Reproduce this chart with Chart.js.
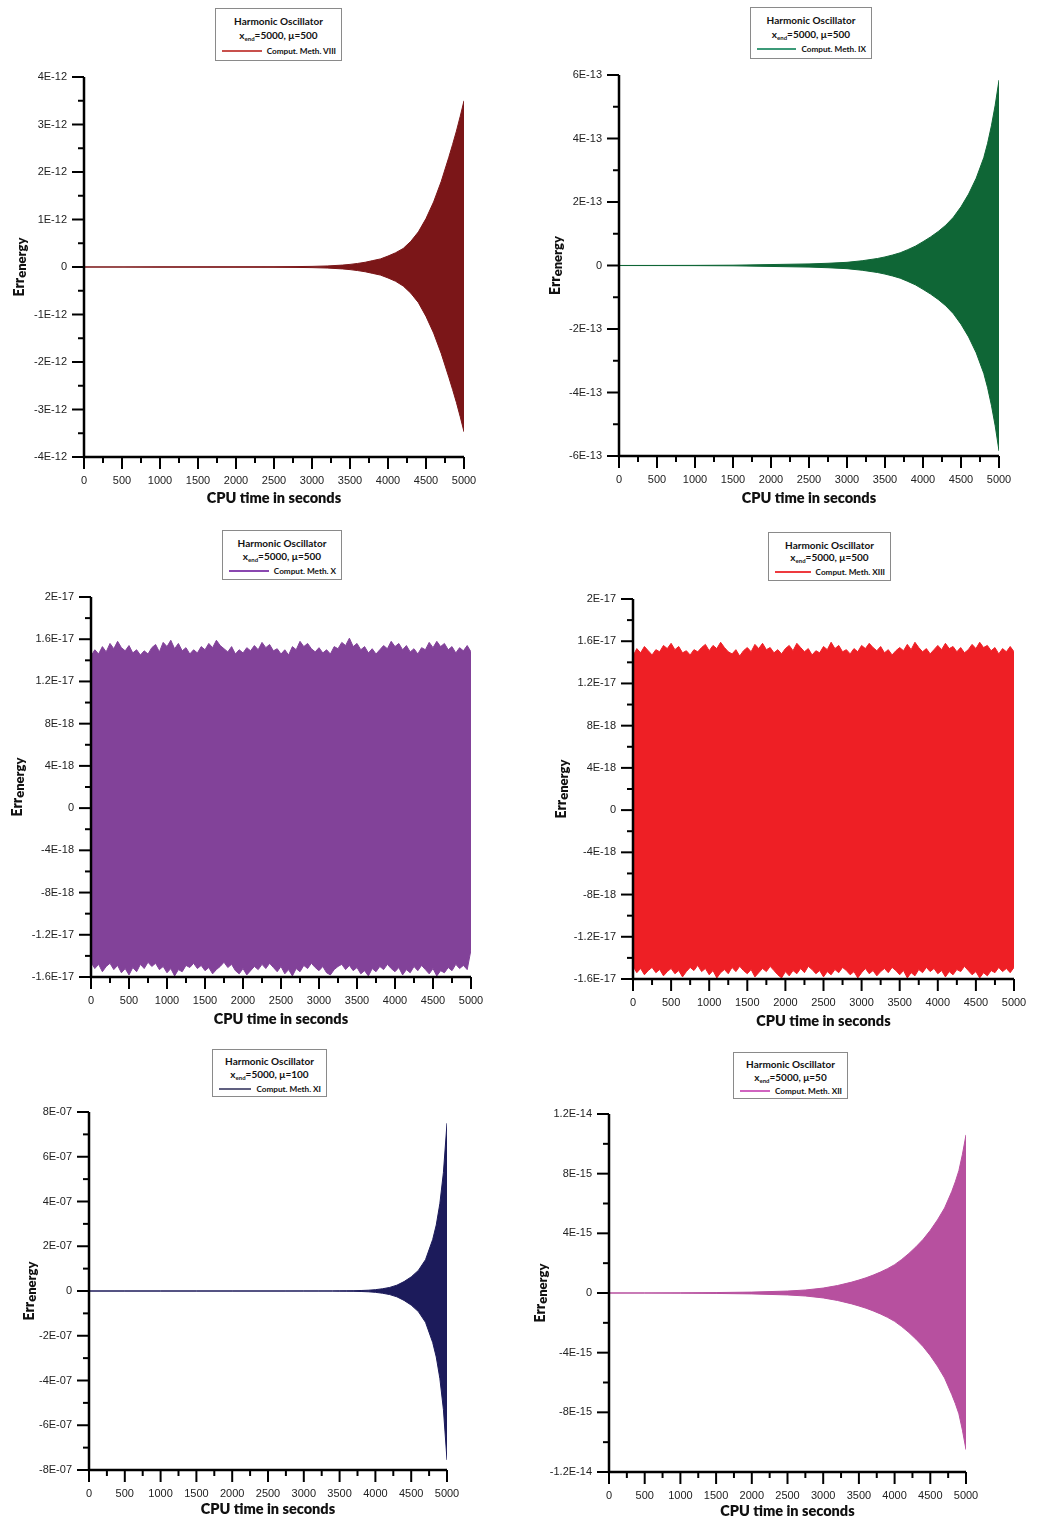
<!DOCTYPE html>
<html>
<head>
<meta charset="utf-8">
<script src="https://cdn.jsdelivr.net/npm/chart.js@4.4.1/dist/chart.umd.min.js"></script>
<style>
    body { margin: 0; background: #fff; }
    #page { position: relative; width: 1040px; height: 1522px; overflow: hidden; background: #fff; }
    .panel { position: absolute; }
    .legend { position: absolute; box-sizing: border-box; border: 1px solid #8a8a8a; background: #fff; font-family: Lato, "Open Sans", sans-serif; font-weight: 700; color: #111; }
    .legend .l1, .legend .l2 { position: absolute; left: 0; right: 0; text-align: center; font-size: 10px; line-height: 12px; }
    .legend .l2 sub { font-size: 6px; vertical-align: -2px; }
    .legend .l3 { position: absolute; left: 6px; right: 5px; display: flex; align-items: center; font-size: 8.2px; line-height: 10px; }
    .legend .swatch { flex: 1; height: 1.5px; margin-right: 5px; }
</style>
</head>
<body>
<div id="page"></div>
<script>
// time axis (CPU seconds)
const xTickLabels = ["0", "500", "1000", "1500", "2000", "2500", "3000", "3500", "4000", "4500", "5000"];

// sampling times for the growing envelopes
const growthTimes = [0, 500, 1000, 1500, 2000, 2500, 2750, 3000, 3200, 3400, 3500, 3600, 3700, 3800, 3900,
    4000, 4100, 4200, 4300, 4400, 4500, 4600, 4700, 4800, 4850, 4900, 4950, 5000];

// Comput. Meth. VIII  (units of 1E-12)
const yTicksVIII = ["-4E-12", "-3E-12", "-2E-12", "-1E-12", "0", "1E-12", "2E-12", "3E-12", "4E-12"];
const upperVIII = [0.002, 0.002, 0.003, 0.004, 0.005, 0.006, 0.008, 0.013, 0.022, 0.04, 0.055, 0.075, 0.1, 0.135,
    0.17, 0.23, 0.3, 0.39, 0.54, 0.74, 1.02, 1.37, 1.8, 2.31, 2.58, 2.86, 3.17, 3.5];
const lowerVIII = [-0.002, -0.002, -0.003, -0.004, -0.005, -0.006, -0.008, -0.013, -0.022, -0.04, -0.055, -0.075, -0.1, -0.135,
    -0.17, -0.23, -0.3, -0.4, -0.55, -0.75, -1.04, -1.39, -1.82, -2.32, -2.58, -2.85, -3.15, -3.47];

// Comput. Meth. IX  (units of 1E-13)
const yTicksIX = ["-6E-13", "-4E-13", "-2E-13", "0", "2E-13", "4E-13", "6E-13"];
const upperIX = [0.001, 0.002, 0.004, 0.01, 0.03, 0.05, 0.07, 0.1, 0.15, 0.22, 0.27, 0.33, 0.4, 0.5,
    0.61, 0.75, 0.9, 1.07, 1.27, 1.52, 1.85, 2.25, 2.75, 3.4, 3.85, 4.4, 5.05, 5.84];
const lowerIX = [-0.001, -0.002, -0.004, -0.01, -0.03, -0.05, -0.07, -0.1, -0.15, -0.22, -0.27, -0.33, -0.4, -0.5,
    -0.61, -0.75, -0.9, -1.07, -1.27, -1.52, -1.85, -2.25, -2.75, -3.4, -3.85, -4.4, -5.05, -5.84];

// Comput. Meth. XI  (units of 1E-07)
const yTicksXI = ["-8E-07", "-6E-07", "-4E-07", "-2E-07", "0", "2E-07", "4E-07", "6E-07", "8E-07"];
const upperXI = [0, 0, 0, 0, 0, 0, 0, 0.001, 0.002, 0.004, 0.006, 0.01, 0.014, 0.022,
    0.035, 0.06, 0.1, 0.16, 0.26, 0.42, 0.63, 0.92, 1.4, 2.3, 2.95, 3.9, 5.3, 7.5];
const lowerXI = [0, 0, 0, 0, 0, 0, 0, -0.001, -0.002, -0.004, -0.006, -0.01, -0.014, -0.022,
    -0.035, -0.06, -0.1, -0.16, -0.26, -0.42, -0.63, -0.92, -1.4, -2.3, -2.95, -3.9, -5.3, -7.55];

// Comput. Meth. XII  (units of 1E-15)
const yTicksXII = ["-1.2E-14", "-8E-15", "-4E-15", "0", "4E-15", "8E-15", "1.2E-14"];
const upperXII = [0, 0.005, 0.01, 0.03, 0.06, 0.13, 0.2, 0.33, 0.5, 0.73, 0.87, 1.02, 1.2, 1.4,
    1.63, 1.9, 2.25, 2.65, 3.1, 3.6, 4.2, 4.9, 5.7, 6.8, 7.45, 8.2, 9.3, 10.6];
const lowerXII = [0, -0.005, -0.01, -0.03, -0.06, -0.13, -0.2, -0.33, -0.5, -0.73, -0.87, -1.02, -1.2, -1.4,
    -1.63, -1.9, -2.25, -2.65, -3.1, -3.6, -4.2, -4.9, -5.7, -6.8, -7.4, -8.1, -9.2, -10.5];

// bounded methods, envelope every 50 s  (units of 1E-18)
const yTicksBounded = ["-1.6E-17", "-1.2E-17", "-8E-18", "-4E-18", "0", "4E-18", "8E-18", "1.2E-17", "1.6E-17", "2E-17"];
const upperX = [
    14.4, 15.0, 14.6, 15.3, 14.8, 15.6, 15.1, 15.8, 15.2, 14.9,
    15.4, 14.7, 15.0, 14.5, 14.9, 14.6, 15.2, 15.5, 14.8, 15.7,
    15.3, 15.9, 15.1, 15.6, 14.9, 15.2, 14.6, 15.0, 14.7, 15.3,
    15.0, 15.6, 15.2, 15.9, 15.4, 15.1, 14.8, 15.3, 14.6, 15.0,
    14.7, 15.2, 14.9, 15.4, 15.0, 15.7, 15.2, 15.5, 14.9, 15.1,
    14.6, 15.0, 14.5, 15.3, 15.0, 15.8, 15.3, 15.6, 15.1, 14.8,
    15.2, 14.7, 15.0, 14.6, 15.3, 15.1, 15.7, 15.4, 16.1, 15.3,
    15.6, 15.0, 15.3, 14.7, 15.1, 14.6, 15.0, 15.4, 15.1, 15.8,
    15.3, 15.6, 15.0, 15.4, 14.8, 15.1, 14.6, 15.2, 15.0, 15.7,
    15.2, 15.8, 15.3, 15.6, 15.0, 15.3, 14.7, 15.2, 14.9, 15.4,
    14.8
];
const lowerX = [
    -14.6, -15.2, -14.8, -15.5, -15.0, -14.7, -15.3, -14.9, -15.6, -15.2,
    -15.8, -15.1, -15.5, -14.8, -15.2, -14.6, -15.0, -14.7, -15.3, -15.0,
    -15.6, -15.2, -15.9, -15.3, -15.5, -14.9, -15.1, -14.7, -15.2, -14.9,
    -15.4, -15.1, -15.7, -15.3, -15.0, -14.6, -15.1, -14.8, -15.4, -15.7,
    -15.2, -15.8, -15.4, -15.0, -15.3, -14.8, -15.2, -14.7, -15.1, -15.5,
    -15.0, -15.7, -15.3, -15.9, -15.2, -15.5, -14.9, -15.2, -14.7, -15.1,
    -15.4, -15.0, -15.6, -15.8, -15.3, -15.0, -14.8, -15.3, -14.9, -15.4,
    -15.1, -15.7, -15.4, -15.9, -15.2, -15.5, -15.0, -15.3, -14.8, -15.2,
    -15.5, -15.1, -15.8, -15.3, -15.6, -15.0, -15.4, -14.9, -15.3, -15.7,
    -15.2, -15.9, -15.4, -15.6, -15.1, -15.4, -14.8, -15.2, -14.9, -15.3,
    -13.4
];
const upperXIII = [
    14.6, 15.3, 14.9, 15.5, 15.1, 14.7, 15.2, 15.0, 15.6, 15.3,
    15.8, 15.2, 15.5, 14.9, 15.1, 14.7, 15.2, 15.0, 15.4, 15.7,
    15.1, 15.6, 15.3, 15.9, 15.4, 15.0, 14.8, 15.2, 14.6, 15.1,
    15.4, 15.0, 15.7, 15.3, 15.8, 15.2, 15.4, 14.9, 15.2, 14.8,
    15.3, 15.6, 15.1, 15.8, 15.4, 15.0, 15.3, 14.7, 15.1, 14.9,
    15.5, 15.2, 15.9, 15.3, 15.6, 15.0, 15.2, 14.8, 15.3, 15.0,
    15.6, 15.3, 15.8, 15.4, 15.1, 15.5, 14.9, 15.2, 14.7, 15.1,
    15.4, 15.1, 15.7, 15.2, 15.9, 15.4, 15.0, 15.3, 14.8, 15.2,
    15.6, 15.2, 15.8, 15.3, 15.5, 15.0, 15.4, 14.9, 15.2, 15.7,
    15.3, 15.9, 15.4, 15.6, 15.1, 15.4, 14.8, 15.3, 15.0, 15.5,
    15.0
];
const lowerXIII = [
    -14.8, -15.4, -15.0, -15.6, -15.2, -14.9, -15.4, -15.1, -15.7, -15.3,
    -15.0, -15.5, -15.2, -15.8, -15.3, -14.9, -15.2, -14.7, -15.3, -15.0,
    -15.6, -15.2, -15.9, -15.4, -15.1, -15.5, -14.9, -15.3, -14.8, -15.2,
    -15.5, -15.1, -15.8, -15.4, -15.0, -15.3, -14.8, -15.2, -15.6, -15.9,
    -15.3, -15.7, -15.2, -15.5, -15.0, -15.4, -14.8, -15.1, -15.5, -15.2,
    -15.8, -15.3, -15.6, -15.1, -15.4, -14.9, -15.2, -15.6, -15.3, -15.9,
    -15.4, -15.0, -15.5, -15.2, -15.7, -15.3, -15.0, -15.4, -14.9, -15.2,
    -15.6, -15.2, -15.9, -15.4, -15.7, -15.1, -15.4, -14.9, -15.3, -15.0,
    -15.5, -15.2, -15.8, -15.3, -15.6, -15.1, -15.3, -14.8, -15.2, -15.6,
    -15.3, -15.9, -15.4, -15.7, -15.2, -15.4, -14.9, -15.3, -15.0, -15.4,
    -14.9
];

// legend text
const methodNames = ["Comput. Meth. VIII", "Comput. Meth. IX", "Comput. Meth. X", "Comput. Meth. XIII", "Comput. Meth. XI", "Comput. Meth. XII"];
const muValues = [500, 500, 500, 500, 100, 50];

const bandTimes = upperX.map((v, i) => i * 50);

// layout of the six plots: plot rectangle in page pixels plus styling
const panels = [
    { times: growthTimes, upper: upperVIII, lower: lowerVIII, unit: 1e-12, yLabels: yTicksVIII, yMin: -4e-12, yMax: 4e-12,
      plot: { l: 84, t: 77, r: 464, b: 457 }, fill: "#7b1618", swatch: "#c8504c",
      legend: { l: 215, t: 8, w: 127, h: 53 }, yTitleGap: 64, xTitleGap: 41 },
    { times: growthTimes, upper: upperIX, lower: lowerIX, unit: 1e-13, yLabels: yTicksIX, yMin: -6e-13, yMax: 6e-13,
      plot: { l: 619, t: 75, r: 999, b: 456 }, fill: "#0f6636", swatch: "#3c9a78",
      legend: { l: 750, t: 7, w: 122, h: 52 }, yTitleGap: 63, xTitleGap: 42 },
    { times: bandTimes, upper: upperX, lower: lowerX, unit: 1e-18, yLabels: yTicksBounded, yMin: -1.6e-17, yMax: 2e-17,
      plot: { l: 91, t: 597, r: 471, b: 977 }, fill: "#824299", swatch: "#8a48b0",
      legend: { l: 222, t: 530, w: 120, h: 50 }, yTitleGap: 73, xTitleGap: 42 },
    { times: bandTimes, upper: upperXIII, lower: lowerXIII, unit: 1e-18, yLabels: yTicksBounded, yMin: -1.6e-17, yMax: 2e-17,
      plot: { l: 633, t: 599, r: 1014, b: 979 }, fill: "#ee1f25", swatch: "#ee3a3f",
      legend: { l: 768, t: 532, w: 123, h: 49 }, yTitleGap: 71, xTitleGap: 42 },
    { times: growthTimes, upper: upperXI, lower: lowerXI, unit: 1e-7, yLabels: yTicksXI, yMin: -8e-7, yMax: 8e-7,
      plot: { l: 89, t: 1112, r: 447, b: 1470 }, fill: "#1c1b5b", swatch: "#606080",
      legend: { l: 212, t: 1049, w: 115, h: 48 }, yTitleGap: 59, xTitleGap: 39 },
    { times: growthTimes, upper: upperXII, lower: lowerXII, unit: 1e-15, yLabels: yTicksXII, yMin: -1.2e-14, yMax: 1.2e-14,
      plot: { l: 609, t: 1114, r: 966, b: 1472 }, fill: "#b7509f", swatch: "#d064c0",
      legend: { l: 733, t: 1052, w: 115, h: 47 }, yTitleGap: 68, xTitleGap: 39 }
];

// room around the plot inside each canvas (big enough that label overflow never moves the plot)
const AXIS_W = 95, PAD_T = 32, PAD_R = 36, AXIS_H = 60;

// major ticks from the label list, one minor tick between each pair
function tickValues(min, max, count) {
    const step = (max - min) / (count - 1) / 2;
    const values = [];
    for (let i = 0; i <= (count - 1) * 2; i++) values.push(min + i * step);
    return values;
}

// black axes, major/minor tick marks and the axis titles
const axisFrame = {
    id: "axisFrame",
    afterDatasetsDraw(chart, args, opts) {
        const { ctx, chartArea: a, scales } = chart;
        ctx.save();
        ctx.strokeStyle = "#000";
        ctx.lineWidth = 2.5;
        ctx.beginPath();
        ctx.moveTo(a.left, a.top);
        ctx.lineTo(a.left, a.bottom);
        ctx.lineTo(a.right, a.bottom);
        ctx.stroke();

        ctx.lineWidth = 2;
        scales.y.ticks.forEach((t, i) => {
            const y = scales.y.getPixelForValue(t.value);
            const len = i % 2 === 0 ? 12 : 6;
            ctx.beginPath();
            ctx.moveTo(a.left - len, y);
            ctx.lineTo(a.left, y);
            ctx.stroke();
        });
        scales.x.ticks.forEach((t, i) => {
            const x = scales.x.getPixelForValue(t.value);
            const len = i % 2 === 0 ? 12 : 6;
            ctx.beginPath();
            ctx.moveTo(x, a.bottom);
            ctx.lineTo(x, a.bottom + len);
            ctx.stroke();
        });

        ctx.fillStyle = "#111";
        ctx.textBaseline = "middle";
        ctx.textAlign = "center";
        ctx.font = "800 14.5px Lato";
        ctx.fillText("CPU time in seconds", (a.left + a.right) / 2, a.bottom + opts.xTitleGap);

        // Err with "energy" set slightly low, rotated
        ctx.translate(a.left - opts.yTitleGap, (a.top + a.bottom) / 2);
        ctx.rotate(-Math.PI / 2);
        ctx.textAlign = "left";
        ctx.font = "800 14px Lato";
        const w1 = ctx.measureText("Err").width;
        ctx.font = "800 13px Lato";
        const w2 = ctx.measureText("energy").width;
        const x0 = -(w1 + w2) / 2;
        ctx.font = "800 14px Lato";
        ctx.fillText("Err", x0, -1);
        ctx.font = "800 13px Lato";
        ctx.fillText("energy", x0 + w1, 1.5);
        ctx.restore();
    }
};

function buildLegend(page, p, idx) {
    const box = document.createElement("div");
    box.className = "legend";
    box.style.left = p.legend.l + "px";
    box.style.top = p.legend.t + "px";
    box.style.width = p.legend.w + "px";
    box.style.height = p.legend.h + "px";
    const r = p.legend.h / 53;
    box.innerHTML =
        `<div class="l1" style="top:${Math.round(6 * r)}px">Harmonic Oscillator</div>` +
        `<div class="l2" style="top:${Math.round(20 * r)}px">x<sub>end</sub>=5000, \u03bc=${muValues[idx]}</div>` +
        `<div class="l3" style="top:${Math.round(37 * r)}px"><span class="swatch" style="background:${p.swatch}"></span>${methodNames[idx]}</div>`;
    page.appendChild(box);
}

function buildPanel(page, p, idx) {
    const w = p.plot.r - p.plot.l + AXIS_W + PAD_R;
    const h = p.plot.b - p.plot.t + PAD_T + AXIS_H;
    const wrap = document.createElement("div");
    wrap.className = "panel";
    wrap.style.left = (p.plot.l - AXIS_W) + "px";
    wrap.style.top = (p.plot.t - PAD_T) + "px";
    const canvas = document.createElement("canvas");
    canvas.width = w;
    canvas.height = h;
    canvas.style.width = w + "px";
    canvas.style.height = h + "px";
    wrap.appendChild(canvas);
    page.appendChild(wrap);

    const upperPts = p.times.map((t, i) => ({ x: t, y: p.upper[i] * p.unit }));
    const lowerPts = p.times.map((t, i) => ({ x: t, y: p.lower[i] * p.unit }));
    const tickFont = { family: "'Liberation Sans', Arial, sans-serif", size: 11 };

    new Chart(canvas.getContext("2d"), {
        type: "line",
        data: {
            datasets: [
                { data: upperPts, borderColor: p.fill, backgroundColor: p.fill, borderWidth: 1, pointRadius: 0, fill: "+1", tension: 0 },
                { data: lowerPts, borderColor: p.fill, backgroundColor: p.fill, borderWidth: 1, pointRadius: 0, fill: false, tension: 0 }
            ]
        },
        options: {
            responsive: false,
            animation: false,
            events: [],
            layout: { padding: { left: 0, top: PAD_T, right: PAD_R, bottom: 0 } },
            plugins: {
                legend: { display: false },
                tooltip: { enabled: false },
                axisFrame: { xTitleGap: p.xTitleGap, yTitleGap: p.yTitleGap }
            },
            scales: {
                x: {
                    type: "linear",
                    min: 0,
                    max: 5000,
                    grid: { display: false, drawTicks: false, tickLength: 0 },
                    border: { display: false },
                    afterBuildTicks: (s) => { s.ticks = tickValues(0, 5000, xTickLabels.length).map(v => ({ value: v })); },
                    afterFit: (s) => { s.height = AXIS_H; },
                    ticks: {
                        autoSkip: false, maxRotation: 0, padding: 17, color: "#222", font: tickFont,
                        callback: (v, i) => (i % 2 === 0 ? xTickLabels[i / 2] : "")
                    }
                },
                y: {
                    min: p.yMin,
                    max: p.yMax,
                    grid: { display: false, drawTicks: false, tickLength: 0 },
                    border: { display: false },
                    afterBuildTicks: (s) => { s.ticks = tickValues(p.yMin, p.yMax, p.yLabels.length).map(v => ({ value: v })); },
                    afterFit: (s) => { s.width = AXIS_W; },
                    ticks: {
                        autoSkip: false, padding: 17, color: "#222", font: tickFont,
                        callback: (v, i) => (i % 2 === 0 ? p.yLabels[i / 2] : "")
                    }
                }
            }
        },
        plugins: [axisFrame]
    });

    buildLegend(page, p, idx);
}

document.addEventListener("DOMContentLoaded", function () {
    const page = document.getElementById("page");
    panels.forEach((p, i) => buildPanel(page, p, i));
});
</script>
</body>
</html>
